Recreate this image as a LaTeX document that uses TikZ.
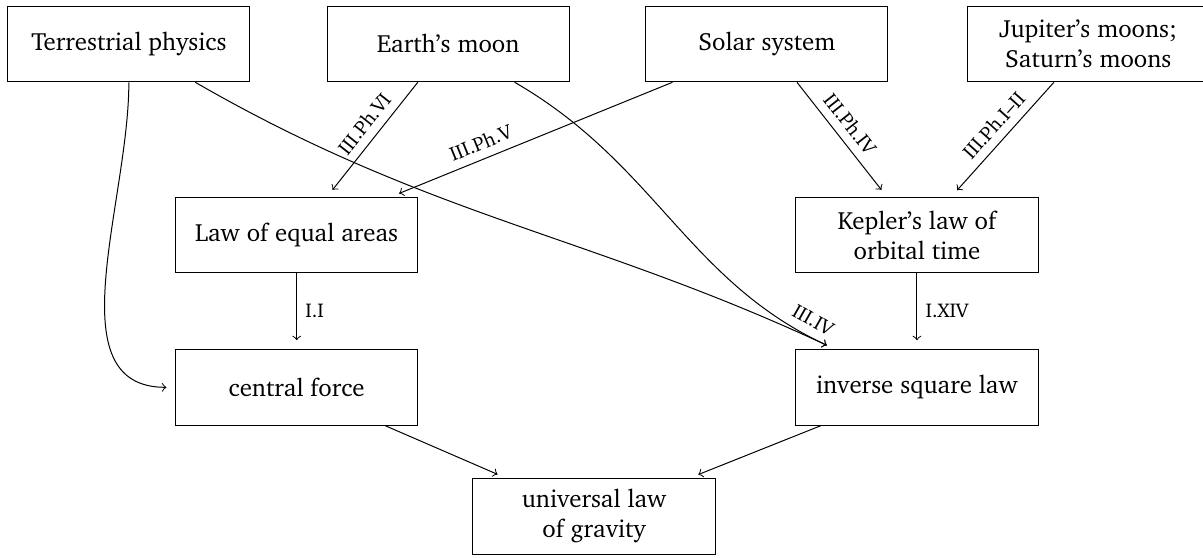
\documentclass[tikz,border=0pt]{standalone}
\usepackage[T1]{fontenc}
\usepackage{charter}
\begin{document}
\begin{tikzpicture}[
>=to,
shorten >=3.5pt
]

\tikzstyle{b} = [draw, shape=rectangle, minimum width=3.42cm, minimum height=1.07cm, align=center]
\tikzstyle{lbl} = [font=\footnotesize, sloped, above]

\useasboundingbox (0,0) rectangle (16.99,-7.87);

% top row
\node[b] (terr) at (1.82,-0.62) {Terrestrial physics};
\node[b] (earth) at (6.33,-0.62) {Earth's moon};
\node[b] (solar) at (10.83,-0.62) {Solar system};
\node[b] (jup) at (15.37,-0.62) {Jupiter's moons;\\ Saturn's moons};

% middle
\node[b] (areas) at (4.19,-3.32) {Law of equal areas};
\node[b] (kepler) at (12.95,-3.32) {Kepler's law of\\ orbital time};
\node[b] (central) at (4.19,-5.47) {central force};
\node[b] (inverse) at (12.95,-5.47) {inverse square law};

% bottom
\node[b] (grav) at (8.39,-7.29) {universal law\\ of gravity};

\draw[->] (earth) -- node[lbl, pos=0.45] {III.Ph.VI} (areas);
\draw[->] (solar) -- node[lbl, pos=0.66] {III.Ph.V} (areas);
\draw[->] (solar) -- node[lbl, pos=0.45] {III.Ph.IV} (kepler);
\draw[->] (jup) -- node[lbl, pos=0.47] {III.Ph.I--II} (kepler);

\draw[->] (areas) -- node[right, font=\footnotesize] {I.I} (central);
\draw[->] (kepler) -- node[right, font=\footnotesize] {I.XIV} (inverse);

\draw[->] (terr) to[out=-90, in=180] (central);
\draw[->] (terr) to[out=-30, in=155] (inverse);
\draw[->] (earth) to[out=-30, in=155] node[lbl, pos=0.93] {III.IV} (inverse);

\draw[->] (central) -- (grav);
\draw[->] (inverse) -- (grav);
\end{tikzpicture}
\end{document}
